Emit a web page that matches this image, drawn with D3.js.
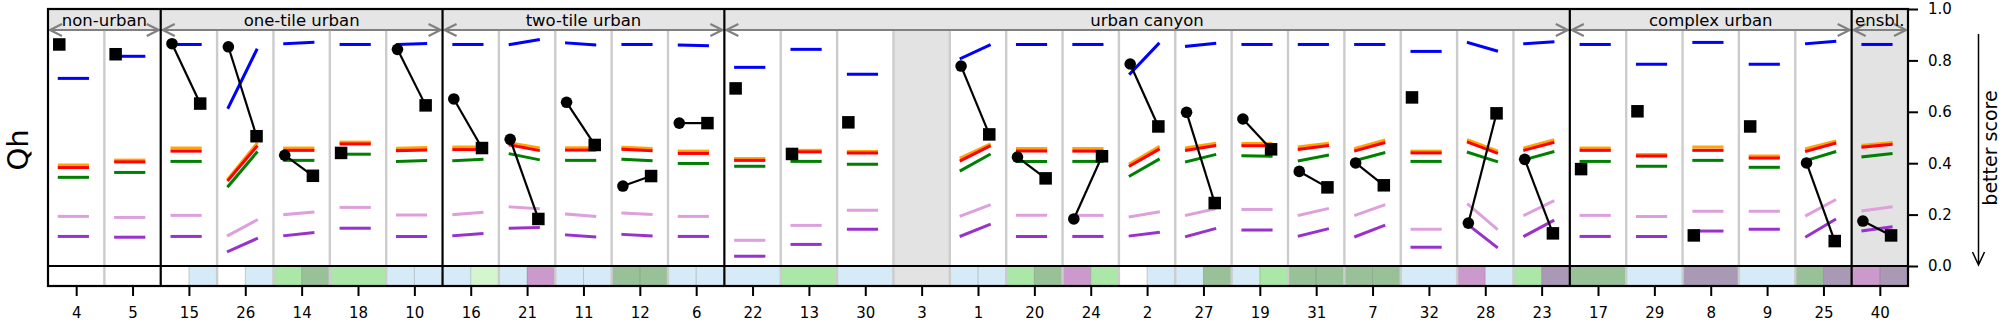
<!DOCTYPE html>
<html>
<head>
<meta charset="utf-8">
<script src="https://cdn.jsdelivr.net/npm/d3@7"></script>
<style>
  body { margin: 0; background: #fff; }
  svg { display: block; }
  text { font-family: "DejaVu Sans", sans-serif; fill: #000; }
</style>
</head>
<body>
<svg id="chart" width="2005" height="325"></svg>
<script>
// ---- data -------------------------------------------------------------
const categories = ["4","5","15","26","14","18","10","16","21","11","12","6",
  "22","13","30","3","1","20","24","2","27","19","31","7","32","28","23",
  "17","29","8","9","25","40"];
const groupNames = ["non-urban","one-tile urban","two-tile urban","urban canyon","complex urban","ensbl."];
const groupSizes = [2, 5, 5, 15, 5, 1];

// reference scores, one segment per site: value at start (left) and end (right)
const blueStart   = [.730,.816,.862,.617,.865,.862,.862,.862,.862,.868,.862,.860,.773,.843,.746,null,.808,.862,.862,.749,.855,.862,.862,.862,.835,.869,.865,.862,.785,.870,.785,.865,.862];
const blueEnd     = [.730,.816,.862,.840,.870,.862,.866,.862,.880,.860,.862,.857,.773,.843,.746,null,.859,.862,.862,.864,.866,.862,.862,.862,.835,.837,.872,.862,.785,.870,.785,.874,.862];
const orangeStart = [.393,.412,.459,.341,.459,.482,.458,.463,.479,.460,.462,.447,.418,.450,.446,null,.422,.457,.457,.399,.460,.477,.464,.458,.447,.490,.460,.459,.434,.463,.428,.457,.470];
const orangeEnd   = [.393,.412,.459,.475,.459,.482,.461,.463,.460,.460,.457,.447,.418,.450,.446,null,.473,.457,.457,.463,.477,.477,.477,.489,.447,.449,.490,.459,.434,.463,.428,.485,.480];
const redStart    = [.383,.405,.447,.335,.450,.475,.449,.453,.471,.451,.454,.438,.411,.444,.440,null,.411,.447,.447,.390,.450,.468,.454,.449,.440,.481,.451,.450,.428,.450,.420,.447,.463];
const redEnd      = [.383,.405,.447,.464,.450,.475,.451,.453,.450,.451,.449,.438,.411,.444,.440,null,.466,.447,.447,.453,.468,.468,.468,.479,.440,.440,.480,.450,.428,.450,.420,.477,.473];
const greenStart  = [.345,.364,.407,.311,.411,.435,.407,.410,.436,.411,.415,.399,.388,.407,.396,null,.372,.407,.407,.351,.406,.429,.410,.411,.407,.442,.414,.407,.388,.411,.384,.411,.425];
const greenEnd    = [.345,.364,.407,.441,.411,.435,.410,.415,.414,.411,.410,.399,.388,.407,.396,null,.433,.407,.407,.414,.433,.427,.431,.440,.407,.407,.444,.407,.388,.411,.384,.444,.437];
const plumStart   = [.193,.189,.197,.119,.200,.228,.198,.200,.230,.202,.206,.193,.100,.158,.217,null,.195,.197,.197,.192,.198,.220,.198,.198,.143,.239,.198,.197,.193,.213,.213,.197,.215];
const plumEnd     = [.193,.189,.197,.178,.210,.228,.198,.209,.223,.193,.201,.193,.100,.158,.217,null,.237,.197,.197,.210,.222,.220,.223,.237,.143,.145,.252,.197,.193,.213,.213,.256,.230];
const purpleStart = [.115,.112,.115,.057,.118,.147,.115,.118,.147,.121,.123,.115,.038,.084,.143,null,.117,.115,.115,.117,.115,.140,.117,.115,.073,.160,.117,.115,.115,.136,.143,.115,.137];
const purpleEnd   = [.115,.112,.115,.106,.130,.147,.115,.126,.150,.113,.117,.115,.038,.084,.143,null,.161,.115,.115,.131,.145,.140,.144,.157,.073,.074,.176,.115,.115,.136,.143,.180,.152];

// model scores: first run (circle) and second run (square)
const circleScore = [null,null,.865,.853,.431,null,.843,.650,.493,.637,.311,.556,null,null,null,null,.778,.424,.183,.786,.598,.572,.368,.401,null,.167,.415,null,null,null,null,.401,.175];
const squareScore = [.862,.824,.632,.505,.351,.440,.625,.459,.183,.471,.350,.556,.691,.436,.559,null,.512,.341,.427,.543,.245,.454,.306,.314,.656,.594,.127,.377,.602,.119,.543,.097,.119];

// site-class strip below the panel (left / right half of each site)
const stripLeft  = ["W","W","W","W","LG","LG","LB","LB","LB","LB","DG","LB","LB","LG","LB","GR","LB","LG","PK","W","LB","LB","DG","DG","LB","PK","LG","DG","LB","GP","LB","DG","PK"];
const stripRight = ["W","W","LB","LB","DG","LG","LB","PG","PK","LB","DG","LB","LB","LG","LB","GR","LB","DG","LG","LB","DG","LG","DG","DG","LB","LB","GP","DG","LB","GP","LB","GP","GP"];
const stripColors = { W:"#ffffff", LB:"#d6ebf8", LG:"#abe8a8", DG:"#98c198", PK:"#cc99cc", GP:"#aa99b5", PG:"#d4f6cf", GR:"#e3e3e3" };

const tickValues = [0, 0.2, 0.4, 0.6, 0.8, 1.0];

// ---- layout ----------------------------------------------------------
const svg = d3.select("#chart");
const plotL = 48, plotR = 1908, plotT = 9, zeroY = 266, stripBottom = 286, headerY = 30;
const n = categories.length;
const x = d3.scaleLinear().domain([-0.5, n - 0.5]).range([plotL, plotR]);
const y = d3.scaleLinear().domain([0, 1]).range([zeroY, plotT]);

const series = [
  { color: "#ffa500", s: orangeStart, e: orangeEnd },
  { color: "#ff0000", s: redStart,    e: redEnd },
  { color: "#008000", s: greenStart,  e: greenEnd },
  { color: "#dda0dd", s: plumStart,   e: plumEnd },
  { color: "#9932cc", s: purpleStart, e: purpleEnd },
  { color: "#0000ff", s: blueStart,   e: blueEnd }
];

// group start indices
const groupStart = [];
groupSizes.reduce((acc, g) => { groupStart.push(acc); return acc + g; }, 0);

// header band
svg.append("rect").attr("x", plotL).attr("y", plotT).attr("width", plotR - plotL).attr("height", headerY - plotT)
  .attr("fill", "#e5e5e5");

// shaded columns: site without data, ensemble column
const idx3 = categories.indexOf("3");
svg.append("rect").attr("x", x(idx3 - 0.5)).attr("y", headerY).attr("width", x(idx3 + 0.5) - x(idx3 - 0.5))
  .attr("height", zeroY - headerY).attr("fill", "#e3e3e3");
const ensStart = groupStart[groupStart.length - 1];
svg.append("rect").attr("x", x(ensStart - 0.5)).attr("y", plotT).attr("width", plotR - x(ensStart - 0.5))
  .attr("height", zeroY - plotT).attr("fill", "#e3e3e3");

// strip cells
const single = d3.range(n).map(i => circleScore[i] == null);
const strip = svg.append("g");
d3.range(n).forEach(i => {
  if (single[i]) {
    strip.append("rect").attr("x", x(i - 0.5)).attr("y", zeroY).attr("width", x(i + 0.5) - x(i - 0.5))
      .attr("height", stripBottom - zeroY).attr("fill", stripColors[stripLeft[i]]);
  } else {
    strip.append("rect").attr("x", x(i - 0.5)).attr("y", zeroY).attr("width", x(i) - x(i - 0.5))
      .attr("height", stripBottom - zeroY).attr("fill", stripColors[stripLeft[i]]);
    strip.append("rect").attr("x", x(i)).attr("y", zeroY).attr("width", x(i + 0.5) - x(i))
      .attr("height", stripBottom - zeroY).attr("fill", stripColors[stripRight[i]]);
    strip.append("line").attr("x1", x(i)).attr("x2", x(i)).attr("y1", zeroY).attr("y2", stripBottom)
      .attr("stroke", "#000").attr("stroke-opacity", 0.18).attr("stroke-width", 1);
  }
});

// light separators between sites
const groupEdges = new Set(groupStart.slice(1));
svg.append("g").selectAll("line")
  .data(d3.range(1, n).filter(i => !groupEdges.has(i)))
  .join("line")
  .attr("x1", i => x(i - 0.5)).attr("x2", i => x(i - 0.5))
  .attr("y1", headerY).attr("y2", stripBottom)
  .attr("stroke", "#cccccc").attr("stroke-width", 2.4);

// score segments
const segG = svg.append("g");
series.forEach(sr => {
  segG.append("g").selectAll("line")
    .data(d3.range(n).filter(i => sr.s[i] != null))
    .join("line")
    .attr("x1", i => x(i - 0.3)).attr("x2", i => x(i + 0.2))
    .attr("y1", i => y(sr.s[i])).attr("y2", i => y(sr.e[i]))
    .attr("stroke", sr.color).attr("stroke-width", 3).attr("stroke-linecap", "square");
});

// model runs
const mG = svg.append("g");
d3.range(n).forEach(i => {
  if (squareScore[i] == null) return;
  const sq = 12.5;
  if (circleScore[i] != null) {
    mG.append("line").attr("x1", x(i - 0.3)).attr("y1", y(circleScore[i]))
      .attr("x2", x(i + 0.2)).attr("y2", y(squareScore[i]))
      .attr("stroke", "#000").attr("stroke-width", 2.2);
    mG.append("circle").attr("cx", x(i - 0.3)).attr("cy", y(circleScore[i])).attr("r", 5.8).attr("fill", "#000");
    mG.append("rect").attr("x", x(i + 0.2) - sq / 2).attr("y", y(squareScore[i]) - sq / 2)
      .attr("width", sq).attr("height", sq).attr("fill", "#000");
  } else {
    mG.append("rect").attr("x", x(i - 0.3) - sq / 2).attr("y", y(squareScore[i]) - sq / 2)
      .attr("width", sq).attr("height", sq).attr("fill", "#000");
  }
});

// group headers with double arrows
const hG = svg.append("g");
groupNames.forEach((name, g) => {
  const a = x(groupStart[g] - 0.5) + 2, b = x(groupStart[g] + groupSizes[g] - 0.5) - 2;
  const ah = 12, aw = 6;
  hG.append("path")
    .attr("d", `M${a},${headerY}H${b}M${a + ah},${headerY - aw}L${a},${headerY}L${a + ah},${headerY + aw}` +
               `M${b - ah},${headerY - aw}L${b},${headerY}L${b - ah},${headerY + aw}`)
    .attr("fill", "none").attr("stroke", "#808080").attr("stroke-width", 2.2);
  hG.append("text").attr("x", (a + b) / 2).attr("y", 26).attr("text-anchor", "middle")
    .style("font-size", "16.5px").text(name);
});

// zero line, group separators, frame
svg.append("line").attr("x1", plotL).attr("x2", plotR).attr("y1", zeroY).attr("y2", zeroY)
  .attr("stroke", "#000").attr("stroke-width", 2.2);
svg.append("g").selectAll("line").data(groupStart.slice(1)).join("line")
  .attr("x1", i => x(i - 0.5)).attr("x2", i => x(i - 0.5)).attr("y1", plotT).attr("y2", stripBottom)
  .attr("stroke", "#000").attr("stroke-width", 2.2);
svg.append("rect").attr("x", plotL).attr("y", plotT).attr("width", plotR - plotL).attr("height", stripBottom - plotT)
  .attr("fill", "none").attr("stroke", "#000").attr("stroke-width", 2.2);

// axes
const xAxis = d3.axisBottom(x).tickValues(d3.range(n)).tickFormat(i => categories[i]).tickSize(10).tickPadding(11);
const gx = svg.append("g").attr("transform", `translate(0,${stripBottom})`).call(xAxis);
gx.select(".domain").remove();
gx.selectAll(".tick line").attr("stroke-width", 2);
gx.selectAll(".tick text").style("font-size", "15px").attr("font-family", null);

const yAxis = d3.axisRight(y).tickValues(tickValues).tickFormat(d3.format(".1f")).tickSize(10).tickPadding(10);
const gy = svg.append("g").attr("transform", `translate(${plotR},0)`).call(yAxis);
gy.select(".domain").remove();
gy.selectAll(".tick line").attr("stroke-width", 2);
gy.selectAll(".tick text").style("font-size", "15px").attr("font-family", null);

// labels
svg.append("text").attr("transform", "translate(28,150) rotate(-90)").attr("text-anchor", "middle")
  .style("font-size", "29px").text("Qh");
svg.append("text").attr("transform", "translate(1997,148) rotate(-90)").attr("text-anchor", "middle")
  .style("font-size", "19px").text("better score");

// "better score" direction arrow
const axX = 1978.5;
svg.append("path")
  .attr("d", `M${axX},34V265M${axX - 6},252L${axX},265L${axX + 6},252`)
  .attr("fill", "none").attr("stroke", "#000").attr("stroke-width", 1.5);
</script>
</body>
</html>
